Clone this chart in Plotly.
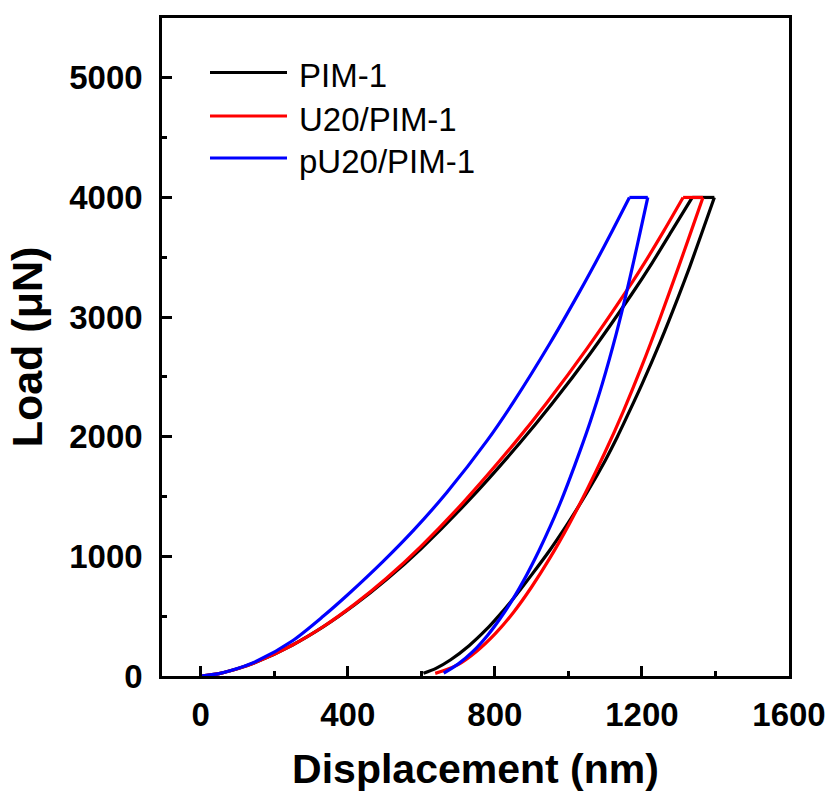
import plotly.graph_objects as go

# ---- data (displacement nm, load µN) ----
# loading branches
pim1_ld_x = [0, 50, 100, 153, 250, 334, 420, 507, 600, 726, 868, 956, 1060, 1173, 1228, 1280, 1337]
pim1_ld_y = [0, 20, 60, 118, 259, 412, 597, 810, 1066, 1457, 1947, 2277, 2698, 3195, 3454, 3714, 4000]
u20_ld_x = [0, 50, 100, 153, 250, 334, 420, 507, 600, 715, 856, 942, 1050, 1173, 1205, 1260, 1312]
u20_ld_y = [0, 20, 60, 118, 259, 414, 603, 821, 1086, 1454, 1955, 2286, 2734, 3288, 3442, 3723, 4000]
pu20_ld_x = [0, 50, 100, 153, 250, 334, 400, 497, 580, 670, 779, 851, 950, 1028, 1073, 1120, 1166]
pu20_ld_y = [0, 20, 62, 125, 295, 501, 679, 960, 1221, 1536, 1967, 2291, 2781, 3198, 3450, 3723, 4000]

# unloading branches (start after the hold at 4000 µN)
pim1_ul_x = [1397, 1360, 1330, 1300, 1250, 1200, 1150, 1133, 1100, 1050, 1000, 978, 950, 900, 850, 800, 779, 730, 680, 640, 606]
pim1_ul_y = [4000, 3678, 3420, 3177, 2792, 2437, 2107, 1998, 1800, 1530, 1282, 1179, 1053, 845, 645, 465, 395, 253, 136, 64, 23]
u20_ul_x = [1366, 1330, 1300, 1250, 1200, 1150, 1100, 1050, 1000, 950, 900, 850, 800, 750, 700, 660, 638]
u20_ul_y = [4000, 3683, 3422, 2997, 2592, 2217, 1872, 1552, 1257, 987, 744, 529, 350, 205, 95, 43, 22]
pu20_ul_x = [1216, 1195, 1178, 1160, 1130, 1092, 1060, 1033, 1000, 978, 951, 920, 878, 850, 815, 780, 740, 700, 661]
pu20_ul_y = [4000, 3706, 3471, 3230, 2858, 2440, 2130, 1892, 1618, 1446, 1252, 1047, 795, 647, 483, 339, 203, 99, 24]

series_names = ["PIM-1", "U20/PIM-1", "pU20/PIM-1"]
series_colors = ["#000000", "#ff0000", "#0000ff"]
loading = [(pim1_ld_x, pim1_ld_y), (u20_ld_x, u20_ld_y), (pu20_ld_x, pu20_ld_y)]
unloading = [(pim1_ul_x, pim1_ul_y), (u20_ul_x, u20_ul_y), (pu20_ul_x, pu20_ul_y)]

x_ticks = [0, 400, 800, 1200, 1600]
y_ticks = [0, 1000, 2000, 3000, 4000, 5000]

FONT = "Liberation Sans, Arial, sans-serif"
LW = 3.2

fig = go.Figure()
for name, col, (lx, ly), (ux, uy) in zip(series_names, series_colors, loading, unloading):
    fig.add_trace(go.Scatter(x=lx, y=ly, mode="lines", name=name, legendgroup=name,
                             line=dict(color=col, width=LW, shape="spline", smoothing=0.8),
                             showlegend=False))
    # hold segment
    fig.add_trace(go.Scatter(x=[lx[-1], ux[0]], y=[ly[-1], uy[0]], mode="lines", name=name,
                             legendgroup=name, line=dict(color=col, width=LW), showlegend=False))
    fig.add_trace(go.Scatter(x=ux, y=uy, mode="lines", name=name, legendgroup=name,
                             line=dict(color=col, width=LW, shape="spline", smoothing=0.8),
                             showlegend=False))

# legend drawn as line samples + text (paper coords)
L, R, T, B = 162, 42, 18, 119
W, H = 831, 795
pw, ph = W - L - R, H - T - B
def px(xp): return (xp - L) / pw
def py(yp): return (H - B - yp) / ph
leg_y = [72.5, 116, 158]
for name, col, yy in zip(series_names, series_colors, leg_y):
    fig.add_shape(type="line", xref="paper", yref="paper",
                  x0=px(210), x1=px(287), y0=py(yy), y1=py(yy),
                  line=dict(color=col, width=3))
    fig.add_annotation(xref="paper", yref="paper", x=px(297), y=py(yy + 3),
                       text=name, showarrow=False, xanchor="left", yanchor="middle",
                       font=dict(family=FONT, size=33, color="black"))

axis_common = dict(showline=True, linecolor="black", linewidth=2.5, mirror=True,
                   ticks="inside", ticklen=10, tickwidth=2.5, tickcolor="black",
                   showgrid=False, zeroline=False,
                   tickfont=dict(family=FONT, size=33, color="black", weight="bold"))

fig.update_xaxes(range=[-105, 1600], tickvals=x_ticks, **axis_common,
                 minor=dict(ticks="inside", ticklen=5, tickwidth=2.5, tickcolor="black", dtick=200, tick0=0, showgrid=False),
                 ticklabelstandoff=8,
                 title=dict(text="Displacement (nm)", standoff=22,
                            font=dict(family=FONT, size=41, color="black", weight="bold")))
fig.update_yaxes(range=[0, 5500], tickvals=y_ticks, **axis_common,
                 minor=dict(ticks="inside", ticklen=5, tickwidth=2.5, tickcolor="black", dtick=500, tick0=0, showgrid=False),
                 ticklabelstandoff=10,
                 title=dict(text="Load (μN)", standoff=14,
                            font=dict(family=FONT, size=43, color="black", weight="bold")))

fig.update_layout(width=W, height=H, margin=dict(l=L, r=R, t=T, b=B, autoexpand=False),
                  plot_bgcolor="white", paper_bgcolor="white", showlegend=False)

fig.write_html("out.html")
